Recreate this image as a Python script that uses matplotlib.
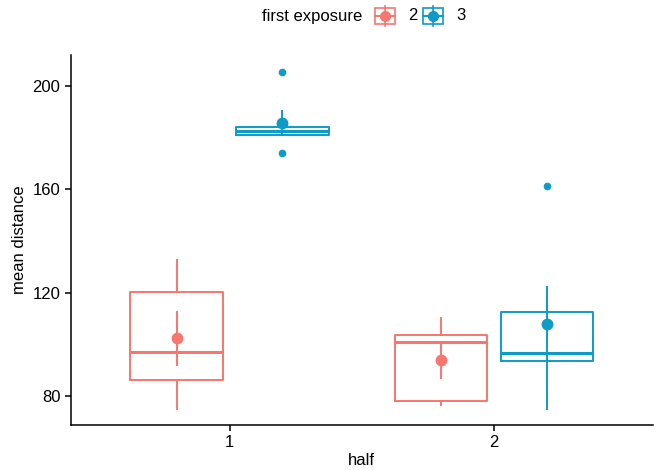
import matplotlib
matplotlib.use("Agg")
import matplotlib.pyplot as plt
from matplotlib.patches import Rectangle
from matplotlib.lines import Line2D

plt.rcParams['font.family'] = ['Liberation Sans', 'DejaVu Sans']

# half 1 / half 2, per first exposure group
halves = [1, 2]
exposures = ["2", "3"]
colores = {"2": "#F8766D", "3": "#0E9BC7"}

# boxplot stats (whisker low, q1, median, q3, whisker high)
caja_2 = [[75.2, 86.4, 97.1, 120.4, 132.6], [76.5, 78.2, 100.9, 103.6, 110.3]]
caja_3 = [[181.0, 181.1, 182.6, 184.2, 184.4], [75.2, 93.7, 96.5, 112.7, 118.0]]
outliers_2 = [[], []]
outliers_3 = [[205.4, 174.0], [161.4]]

# mean +- error
media_2 = [102.3, 93.8]
error_2 = [10.7, 7.0]
media_3 = [185.6, 107.9]
error_3 = [5.2, 14.5]

datos = {"2": (caja_2, outliers_2, media_2, error_2),
         "3": (caja_3, outliers_3, media_3, error_3)}
desplazamiento = {"2": -0.2, "3": 0.2}

fig = plt.figure(figsize=(6.62, 4.7), dpi=100)
ax = fig.add_axes([0.107, 0.096, 0.879, 0.787])

for expo in exposures:
    cajas, outs, medias, errores = datos[expo]
    col = colores[expo]
    stats = []
    for i in range(len(halves)):
        wl, q1, med, q3, wh = cajas[i]
        stats.append(dict(whislo=wl, q1=q1, med=med, q3=q3, whishi=wh, fliers=outs[i]))
    pos = [h + desplazamiento[expo] for h in halves]
    ax.bxp(stats, positions=pos, widths=0.35, showcaps=False,
           boxprops=dict(color=col, lw=1.4),
           medianprops=dict(color=col, lw=2.2),
           whiskerprops=dict(color=col, lw=1.4),
           flierprops=dict(marker='o', markerfacecolor=col, markeredgecolor=col, markersize=4.5),
           manage_ticks=False)
    ax.errorbar(pos, medias, yerr=errores, fmt='o', color=col, ms=7.5, lw=1.4, capsize=0, zorder=5)

ax.set_xlim(0.4, 2.6)
ax.set_ylim(68.9, 211.9)
ax.set_xticks(halves)
ax.set_xticklabels([str(h) for h in halves])
ax.set_yticks([80, 120, 160, 200])
for s in ["top", "right"]:
    ax.spines[s].set_visible(False)
for s in ["left", "bottom"]:
    ax.spines[s].set_linewidth(1.1)
ax.tick_params(labelsize=12, length=4, width=1.1, colors='black')
ax.set_xlabel("half", fontsize=12, labelpad=2)
ax.set_ylabel("mean distance", fontsize=12)

# leyenda arriba
fig.text(262 / 662, 1 - 16 / 470, "first exposure", fontsize=12, va='center', ha='left')
for expo, x0, xt in [("2", 375, 408), ("3", 423, 456)]:
    col = colores[expo]
    w, h = 20 / 662, 16 / 470
    xc = x0 / 662
    yc = 1 - 16 / 470
    fig.add_artist(Rectangle((xc, yc - h / 2), w, h, transform=fig.transFigure,
                             fill=False, edgecolor=col, lw=1.2))
    fig.add_artist(Line2D([xc, xc + w], [yc, yc], transform=fig.transFigure, color=col, lw=1.4))
    fig.add_artist(Line2D([xc + w / 2, xc + w / 2], [yc - h / 2 - 2 / 470, yc + h / 2 + 2 / 470],
                          transform=fig.transFigure, color=col, lw=1.2))
    fig.add_artist(Line2D([xc + w / 2], [yc], transform=fig.transFigure, marker='o',
                          color=col, ms=7))
    fig.text(xt / 662, yc, expo, fontsize=12, va='center', ha='left')

fig.savefig("out.png", dpi=100)
